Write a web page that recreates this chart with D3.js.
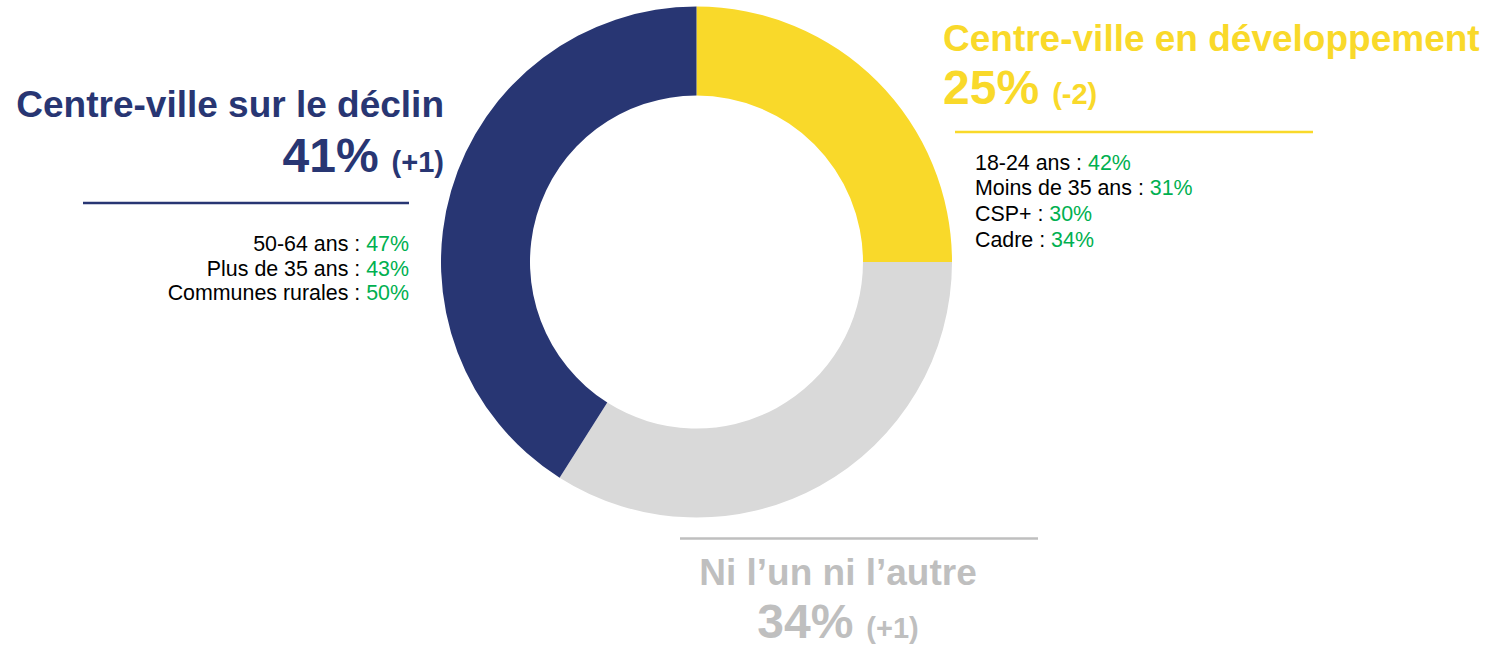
<!DOCTYPE html>
<html>
<head>
<meta charset="utf-8">
<script src="https://cdn.jsdelivr.net/npm/d3@7"></script>
<style>
  body { margin: 0; background: #fff; }
  svg { display: block; font-family: "Liberation Sans", Arial, sans-serif; }
</style>
</head>
<body>
<svg width="1493" height="649"></svg>
<script>
// données
const categories = ['Centre-ville en développement', 'Ni l’un ni l’autre', 'Centre-ville sur le déclin'];
const shares = [25, 34, 41];
const changes = ['(-2)', '(+1)', '(+1)'];

const devLabels = ['18-24 ans', 'Moins de 35 ans', 'CSP+', 'Cadre'];
const devValues = [42, 31, 30, 34];
const declinLabels = ['50-64 ans', 'Plus de 35 ans', 'Communes rurales'];
const declinValues = [47, 43, 50];

const color = d3.scaleOrdinal()
  .domain(categories)
  .range(['#F9D92A', '#D9D9D9', '#283673']);
const textColor = d3.scaleOrdinal()
  .domain(categories)
  .range(['#F9D92A', '#BFBFBF', '#283673']);
const green = '#00B050';

const svg = d3.select('svg');

const pie = d3.pie().sort(null).value((d) => d.value);
const arc = d3.arc().innerRadius(166.5).outerRadius(255.5);

const slices = categories.map((c, i) => ({ name: c, value: shares[i] }));

// donut
svg.append('g')
  .attr('transform', 'translate(696.5,262)')
  .selectAll('path')
  .data(pie(slices))
  .enter()
  .append('path')
  .attr('d', arc)
  .attr('fill', (d) => color(d.data.name));

// bloc titre + pourcentage
function headline(i, x, y1, y2, anchor) {
  const c = categories[i];
  svg.append('text')
    .attr('x', x).attr('y', y1)
    .attr('text-anchor', anchor)
    .attr('font-size', 37).attr('font-weight', 'bold')
    .attr('fill', textColor(c))
    .text(c);
  const t = svg.append('text')
    .attr('x', x).attr('y', y2)
    .attr('text-anchor', anchor)
    .attr('font-weight', 'bold')
    .attr('fill', textColor(c));
  t.append('tspan').attr('font-size', 48).text(shares[i] + '%');
  t.append('tspan').attr('font-size', 29).attr('dx', 5).text(' ' + changes[i]);
}

function rule(i, x1, x2, y) {
  svg.append('line')
    .attr('x1', x1).attr('x2', x2).attr('y1', y).attr('y2', y)
    .attr('stroke', textColor(categories[i]))
    .attr('stroke-width', 2.5);
}

function details(labels, values, x, y0, step, anchor) {
  svg.selectAll(null)
    .data(labels)
    .enter()
    .append('text')
    .attr('x', x)
    .attr('y', (d, j) => y0 + j * step)
    .attr('text-anchor', anchor)
    .attr('font-size', 21.4)
    .each(function (d, j) {
      const t = d3.select(this);
      t.append('tspan').attr('fill', '#000').text(d + ' : ');
      t.append('tspan').attr('fill', green).text(values[j] + '%');
    });
}

// Centre-ville sur le déclin (gauche)
headline(2, 444, 117, 172, 'end');
rule(2, 83, 409, 203);
details(declinLabels, declinValues, 409, 251, 24.5, 'end');

// Centre-ville en développement (droite)
headline(0, 943, 51, 104, 'start');
rule(0, 955, 1313, 132);
details(devLabels, devValues, 975, 169.5, 25.7, 'start');

// Ni l'un ni l'autre (bas)
rule(1, 680, 1038, 538.5);
headline(1, 838, 585, 638, 'middle');
</script>
</body>
</html>
